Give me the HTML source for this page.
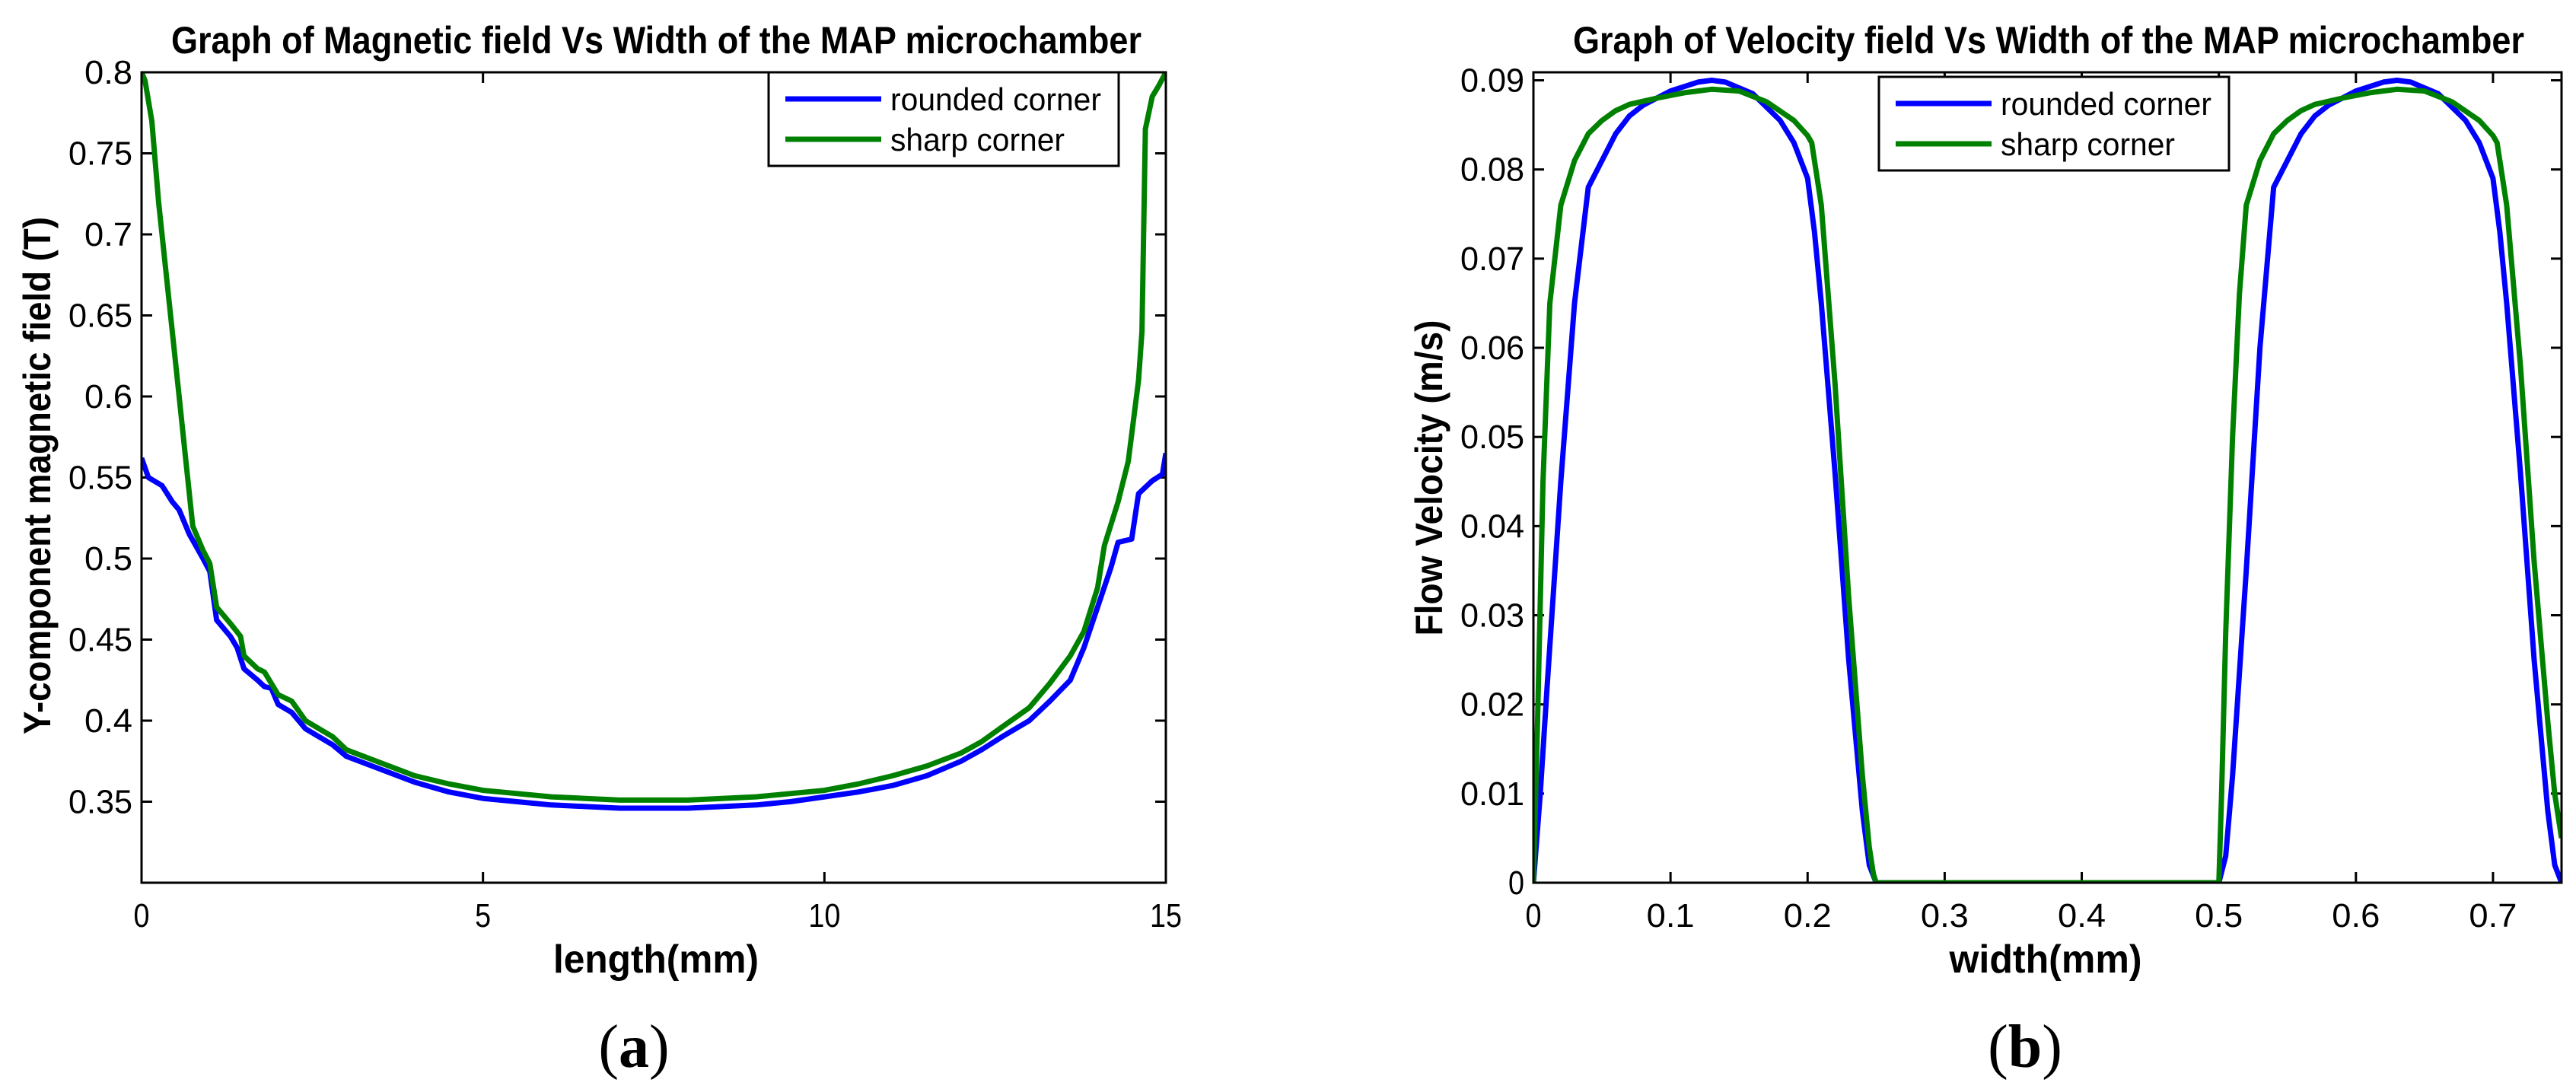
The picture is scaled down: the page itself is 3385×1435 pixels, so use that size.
<!DOCTYPE html>
<html><head><meta charset="utf-8"><style>
html,body{margin:0;padding:0;background:#fff;width:3385px;height:1435px;overflow:hidden}
svg{display:block}
text{font-family:"Liberation Sans",Arial,sans-serif;fill:#000}
</style></head><body>
<svg id="fig" width="3385" height="1435" viewBox="0 0 3385 1435" xmlns="http://www.w3.org/2000/svg"></svg>
<script>
// ---- Chart (a) data ----
const aRoundX = [0,0.1,0.3,0.45,0.55,0.7,0.9,1.0,1.1,1.3,1.4,1.5,1.7,1.8,1.9,2.0,2.2,2.4,2.6,2.8,3.0,3.5,4.0,4.5,5.0,5.5,6.0,6.5,7.0,7.5,8.0,8.5,9.0,9.5,10.0,10.5,11.0,11.5,12.0,12.3,12.6,13.0,13.3,13.6,13.8,14.0,14.2,14.3,14.5,14.6,14.8,14.95,15];
const aRoundY = [0.562,0.550,0.545,0.535,0.530,0.515,0.500,0.492,0.462,0.452,0.445,0.432,0.425,0.421,0.420,0.410,0.405,0.395,0.390,0.385,0.378,0.370,0.362,0.356,0.352,0.350,0.348,0.347,0.346,0.346,0.346,0.347,0.348,0.350,0.353,0.356,0.360,0.366,0.375,0.382,0.390,0.400,0.412,0.425,0.445,0.470,0.495,0.510,0.512,0.540,0.548,0.552,0.565];
const aSharpX = [0,0.05,0.15,0.25,0.35,0.45,0.55,0.65,0.75,0.9,1.0,1.1,1.3,1.45,1.5,1.7,1.8,2.0,2.2,2.4,2.6,2.8,3.0,3.5,4.0,4.5,5.0,5.5,6.0,6.5,7.0,7.5,8.0,8.5,9.0,9.5,10.0,10.5,11.0,11.5,12.0,12.3,12.6,13.0,13.3,13.6,13.8,14.0,14.1,14.3,14.45,14.6,14.65,14.7,14.8,14.9,15];
const aSharpY = [0.800,0.795,0.770,0.720,0.680,0.640,0.600,0.560,0.520,0.505,0.497,0.470,0.460,0.452,0.440,0.432,0.430,0.416,0.412,0.400,0.395,0.390,0.382,0.374,0.366,0.361,0.357,0.355,0.353,0.352,0.351,0.351,0.351,0.352,0.353,0.355,0.357,0.361,0.366,0.372,0.380,0.387,0.396,0.408,0.423,0.440,0.455,0.482,0.508,0.535,0.560,0.610,0.640,0.765,0.785,0.792,0.800];
const aXTicks = [0,5,10,15];
const aYTicks = [0.35,0.4,0.45,0.5,0.55,0.6,0.65,0.7,0.75,0.8];
// ---- Chart (b) data ----
const bRoundX = [0,0.005,0.01,0.02,0.03,0.04,0.05,0.06,0.07,0.08,0.1,0.12,0.13,0.14,0.16,0.18,0.19,0.2,0.205,0.21,0.22,0.23,0.24,0.245,0.25,0.5,0.505,0.51,0.52,0.53,0.54,0.55,0.56,0.57,0.58,0.6,0.62,0.63,0.64,0.66,0.68,0.69,0.7,0.705,0.71,0.72,0.73,0.74,0.745,0.75];
const bRoundY = [0,0.01,0.022,0.045,0.065,0.078,0.081,0.084,0.086,0.0872,0.0888,0.0898,0.09,0.0898,0.0885,0.0855,0.083,0.079,0.073,0.065,0.046,0.025,0.008,0.002,0,0,0.003,0.012,0.035,0.06,0.078,0.081,0.084,0.086,0.0872,0.0888,0.0898,0.09,0.0898,0.0885,0.0855,0.083,0.079,0.073,0.065,0.046,0.025,0.008,0.002,0];
const bSharpX = [0,0.003,0.007,0.012,0.02,0.03,0.04,0.05,0.06,0.07,0.09,0.11,0.13,0.15,0.17,0.19,0.2,0.203,0.21,0.22,0.23,0.24,0.245,0.248,0.25,0.5,0.502,0.505,0.51,0.515,0.52,0.53,0.54,0.55,0.56,0.57,0.59,0.61,0.63,0.65,0.67,0.69,0.7,0.703,0.71,0.72,0.73,0.74,0.745,0.75];
const bSharpY = [0,0.018,0.045,0.065,0.076,0.081,0.084,0.0855,0.0866,0.0873,0.088,0.0886,0.089,0.0888,0.0876,0.0855,0.0838,0.083,0.076,0.056,0.032,0.012,0.004,0.001,0,0,0.01,0.028,0.05,0.066,0.076,0.081,0.084,0.0855,0.0866,0.0873,0.088,0.0886,0.089,0.0888,0.0876,0.0855,0.0838,0.083,0.076,0.058,0.036,0.018,0.01,0.005];
const bXTicks = [0,0.1,0.2,0.3,0.4,0.5,0.6,0.7];
const bYTicks = [0,0.01,0.02,0.03,0.04,0.05,0.06,0.07,0.08,0.09];
const bXLabels = ["0","0.1","0.2","0.3","0.4","0.5","0.6","0.7"];
const bYLabels = ["0","0.01","0.02","0.03","0.04","0.05","0.06","0.07","0.08","0.09"];

const NS="http://www.w3.org/2000/svg";
const svg=document.getElementById('fig');
function mk(tag,attrs,parent,txt){const e=document.createElementNS(NS,tag);for(const k in attrs)e.setAttribute(k,attrs[k]);if(txt!==undefined)e.textContent=txt;(parent||svg).appendChild(e);return e;}

function chart(o){
  const g=mk('g',{},svg);
  
  
  const sx=v=>o.L+(v-o.x0)/(o.x1-o.x0)*(o.R-o.L);
  const sy=v=>o.B-(v-o.y0)/(o.y1-o.y0)*(o.B-o.T);
  const cid=o.name+'-clip';
  const cp=mk('clipPath',{id:cid},g);mk('rect',{x:o.L,y:o.T,width:o.R-o.L,height:o.B-o.T},cp);
  o.xt.forEach((v,i)=>{
    const x=sx(v);
    const t1=mk('line',{x1:x,y1:o.B,x2:x,y2:o.B-14,stroke:'#000','stroke-width':3},g);
    
    
    mk('line',{x1:x,y1:o.T,x2:x,y2:o.T+14,stroke:'#000','stroke-width':3},g);
    const lab=String(o.xl?o.xl[i]:v);
    const t=mk('text',{x:x,y:o.B+58,'text-anchor':'middle','font-size':44,textLength:lab.length*21,lengthAdjust:'spacingAndGlyphs'},g,lab);
    
    
  });
  o.yt.forEach((v,i)=>{
    const y=sy(v);
    mk('line',{x1:o.L,y1:y,x2:o.L+14,y2:y,stroke:'#000','stroke-width':3},g);
    mk('line',{x1:o.R,y1:y,x2:o.R-14,y2:y,stroke:'#000','stroke-width':3},g);
    const lab=String(o.yl?o.yl[i]:v);
    const t=mk('text',{x:o.L-12,y:y+15,'text-anchor':'end','font-size':44,textLength:lab.length*21,lengthAdjust:'spacingAndGlyphs'},g,lab);
    
    
  });
  o.series.forEach(s=>{
    const d=s.x.map((v,i)=>(i?'L':'M')+sx(v).toFixed(1)+','+sy(s.y[i]).toFixed(1)).join('');
    const p=mk('path',{d:d,fill:'none',stroke:s.c,'stroke-width':7,'stroke-linejoin':'round','clip-path':'url(#'+cid+')'},g);
    
    
  });
  const fr=mk('rect',{x:o.L,y:o.T,width:o.R-o.L,height:o.B-o.T,fill:'none',stroke:'#000','stroke-width':3},g);
  
  
  const lg=mk('g',{},g);
  
  
  const Lx=o.leg[0],Ly=o.leg[1];
  mk('rect',{x:Lx,y:Ly,width:460,height:123,fill:'#fff',stroke:'#000','stroke-width':3},lg);
  const names=['rounded corner','sharp corner'],cols=['#0000ff','#008000'],tl=[277,229];
  for(let i=0;i<2;i++){
    const yy=Ly+35+i*53;
    const ln=mk('line',{x1:Lx+22,y1:yy,x2:Lx+148,y2:yy,stroke:cols[i],'stroke-width':7},lg);
    
    
    const t=mk('text',{x:Lx+160,y:yy+15,'font-size':42,textLength:tl[i],lengthAdjust:'spacingAndGlyphs'},lg,names[i]);
    
    
  }
  const ti=mk('text',{x:(o.tx[0]+o.tx[1])/2,y:70,'text-anchor':'middle','font-size':50,'font-weight':'bold',textLength:o.tx[1]-o.tx[0],lengthAdjust:'spacingAndGlyphs'},g,o.title);
  
  
  const xl=mk('text',{x:o.xlab[0],y:1278,'text-anchor':'middle','font-size':52,'font-weight':'bold',textLength:o.xlab[1],lengthAdjust:'spacingAndGlyphs'},g,o.xlabel);
  
  
  const yl=mk('text',{x:0,y:0,'text-anchor':'middle','font-size':50,'font-weight':'bold',textLength:o.ylab[2],lengthAdjust:'spacingAndGlyphs',transform:'translate('+o.ylab[0]+','+o.ylab[1]+') rotate(-90)'},g,o.ylabel);
  
  
  const cap=mk('text',{x:o.cap,y:1402,'text-anchor':'middle','font-size':80,style:'font-family:"Liberation Serif",serif'},g);
  
  
  mk('tspan',{},cap,'(');mk('tspan',{'font-weight':'bold'},cap,o.capl);mk('tspan',{},cap,')');
}

chart({name:'chart-a',L:186,R:1532,T:95,B:1160,x0:0,x1:15,y0:0.3,y1:0.8,xt:aXTicks,yt:aYTicks,
  series:[{x:aRoundX,y:aRoundY,c:'#0000ff',n:'rounded-corner-line'},{x:aSharpX,y:aSharpY,c:'#008000',n:'sharp-corner-line'}],
  leg:[1010,95],tx:[225,1500],title:'Graph of Magnetic field Vs Width of the MAP microchamber',
  xlabel:'length(mm)',xlab:[862,270],ylabel:'Y-component magnetic field (T)',ylab:[66,625,680],cap:833,capl:'a'});
chart({name:'chart-b',L:2015,R:3366,T:95,B:1160,x0:0,x1:0.75,y0:0,y1:0.0909,xt:bXTicks,yt:bYTicks,xl:bXLabels,yl:bYLabels,
  series:[{x:bRoundX,y:bRoundY,c:'#0000ff',n:'rounded-corner-line'},{x:bSharpX,y:bSharpY,c:'#008000',n:'sharp-corner-line'}],
  leg:[2469,101],tx:[2067,3317],title:'Graph of Velocity field Vs Width of the MAP microchamber',
  xlabel:'width(mm)',xlab:[2688,253],ylabel:'Flow Velocity (m/s)',ylab:[1895,628,415],cap:2661,capl:'b'});
</script>
</body></html>
